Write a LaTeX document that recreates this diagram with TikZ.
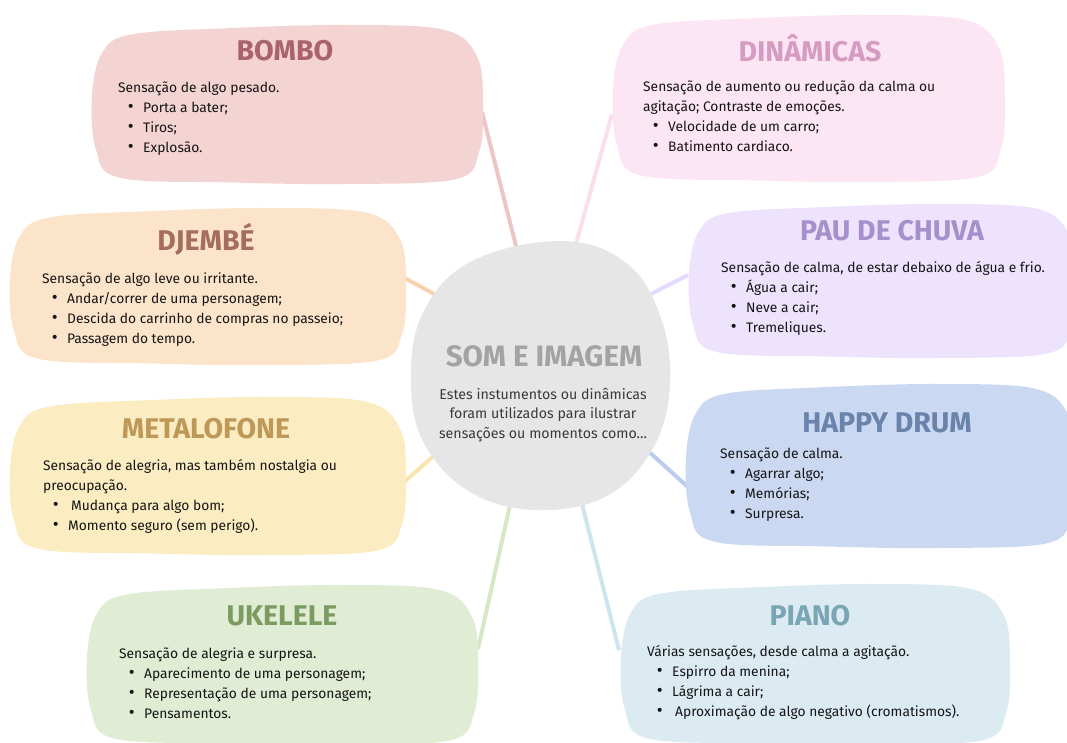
\documentclass[tikz,border=0pt]{standalone}
\usepackage{fontspec}
\setmainfont{Fira Sans}
\newfontfamily\titlefont{Fira Sans}
\usetikzlibrary{calc}
\definecolor{bomboFill}{HTML}{F4D3D3}\definecolor{bomboTitle}{HTML}{A8646A}\definecolor{bomboLine}{HTML}{EEC5C5}
\definecolor{dinFill}{HTML}{FDE6F3}\definecolor{dinTitle}{HTML}{D59BC0}\definecolor{dinLine}{HTML}{FBDEEE}
\definecolor{djeFill}{HTML}{FCE4CB}\definecolor{djeTitle}{HTML}{A56D5F}\definecolor{djeLine}{HTML}{F8D2AE}
\definecolor{pauFill}{HTML}{EDE3FD}\definecolor{pauTitle}{HTML}{A590CB}\definecolor{pauLine}{HTML}{E5DAFD}
\definecolor{metFill}{HTML}{FBECC2}\definecolor{metTitle}{HTML}{BD9856}\definecolor{metLine}{HTML}{F9E4AE}
\definecolor{hapFill}{HTML}{CAD8F1}\definecolor{hapTitle}{HTML}{6A83AA}\definecolor{hapLine}{HTML}{BCCBEF}
\definecolor{ukeFill}{HTML}{E0ECD4}\definecolor{ukeTitle}{HTML}{7C9B62}\definecolor{ukeLine}{HTML}{D6E6C7}
\definecolor{piaFill}{HTML}{DCEBF2}\definecolor{piaTitle}{HTML}{7AA5B5}\definecolor{piaLine}{HTML}{CDE5EE}
\definecolor{cenFill}{HTML}{E6E6E6}\definecolor{cenTitle}{HTML}{A3A3A3}\definecolor{cenText}{HTML}{3A3A3A}
\definecolor{bodyText}{HTML}{151515}
\newcommand\blobshape[5]{%
 \fill[#1] plot[smooth cycle, tension=0.6] coordinates {
  ({#2+0.10*(#4-#2)},{#3+0.06*(#5-#3)})
  ({#2+0.35*(#4-#2)},{#3+0.02*(#5-#3)})
  ({#2+0.65*(#4-#2)},{#3+0.00*(#5-#3)})
  ({#2+0.90*(#4-#2)},{#3+0.03*(#5-#3)})
  ({#2+0.985*(#4-#2)},{#3+0.20*(#5-#3)})
  ({#2+1.00*(#4-#2)},{#3+0.50*(#5-#3)})
  ({#2+0.99*(#4-#2)},{#3+0.80*(#5-#3)})
  ({#2+0.93*(#4-#2)},{#3+0.97*(#5-#3)})
  ({#2+0.65*(#4-#2)},{#3+1.00*(#5-#3)})
  ({#2+0.35*(#4-#2)},{#3+0.99*(#5-#3)})
  ({#2+0.07*(#4-#2)},{#3+0.96*(#5-#3)})
  ({#2+0.01*(#4-#2)},{#3+0.78*(#5-#3)})
  ({#2+0.00*(#4-#2)},{#3+0.45*(#5-#3)})
  ({#2+0.025*(#4-#2)},{#3+0.18*(#5-#3)})
 };}
\newcommand\tline[1]{\hbox{#1}}
\newcommand\bigbul{{\fontsize{18}{18}\selectfont •}}
\newcommand\bline[2][0pt]{\hbox{\hspace*{5pt}\makebox[15pt][c]{\bigbul}\hspace*{5pt}\hspace*{#1}#2}}
\newcommand\centline[1]{\hbox to 0pt{\hss#1\hss}}
\tikzset{
 body/.style={inner sep=0pt, anchor=base west, text=bodyText, font=\fontsize{13.8}{20}\selectfont},
 boxtitle/.style={inner sep=0pt, anchor=base, font=\fontsize{28.5}{30}\titlefont\bfseries},
 link/.style={line width=4pt},
}
\begin{document}
\begin{tikzpicture}[x=1pt,y=-1pt]
\useasboundingbox (0,0) rectangle (1067,742);
% connector end points
\coordinate (c-bombo) at (517,250); \coordinate (e-bombo) at (482,112);
\coordinate (c-din) at (576,244); \coordinate (e-din) at (612,114);
\coordinate (c-dje) at (445,300); \coordinate (e-dje) at (403,277);
\coordinate (c-pau) at (651,294); \coordinate (e-pau) at (688,275);
\coordinate (c-met) at (437,453); \coordinate (e-met) at (403,483);
\coordinate (c-hap) at (648,451); \coordinate (e-hap) at (688,487);
\coordinate (c-uke) at (510,505); \coordinate (e-uke) at (478,649);
\coordinate (c-pia) at (581,500); \coordinate (e-pia) at (619,650);
\draw[link, bomboLine] (c-bombo) -- (e-bombo);
\draw[link, dinLine] (c-din) -- (e-din);
\draw[link, djeLine] (c-dje) -- (e-dje);
\draw[link, pauLine] (c-pau) -- (e-pau);
\draw[link, metLine] (c-met) -- (e-met);
\draw[link, hapLine] (c-hap) -- (e-hap);
\draw[link, ukeLine] (c-uke) -- (e-uke);
\draw[link, piaLine] (c-pia) -- (e-pia);
% blobs
\blobshape{bomboFill}{92}{25}{483}{184}
\blobshape{dinFill}{613}{15}{1005}{182}
\blobshape{djeFill}{10}{208}{406}{365}
\blobshape{pauFill}{689}{204}{1075}{358}
\blobshape{metFill}{10}{397}{406}{555}
\blobshape{hapFill}{686}{384}{1075}{548}
\blobshape{ukeFill}{87}{585}{478}{745}
\blobshape{piaFill}{621}{584}{1010}{745}
\fill[cenFill] plot[smooth cycle, tension=0.65] coordinates {
 (560,241) (625,262) (660,315) (670,385) (652,450) (605,497) (535,510)
 (470,492) (425,445) (411,385) (422,315) (470,262)};
% titles
\node[boxtitle, text=bomboTitle] (t-bombo) at (285,60) {BOMBO};
\node[boxtitle, text=dinTitle] (t-din) at (810,61) {DINÂMICAS};
\node[boxtitle, text=djeTitle] (t-dje) at (206,250) {DJEMBÉ};
\node[boxtitle, text=pauTitle] (t-pau) at (892,240) {PAU DE CHUVA};
\node[boxtitle, text=metTitle] (t-met) at (206,438) {METALOFONE};
\node[boxtitle, text=hapTitle] (t-hap) at (887,432) {HAPPY DRUM};
\node[boxtitle, text=ukeTitle] (t-uke) at (282,625) {UKELELE};
\node[boxtitle, text=piaTitle] (t-pia) at (810,625) {PIANO};
\node[boxtitle, text=cenTitle, font=\fontsize{29.5}{33}\titlefont\bfseries] (t-cen) at (544,366) {SOM E IMAGEM};
% bodies
\node[body] (b-bombo) at (118,92) {\vtop{\tline{Sensação de algo pesado.}\bline{Porta a bater;}\bline{Tiros;}\bline{Explosão.}}};
\node[body] (b-din) at (643,91) {\vtop{\tline{Sensação de aumento ou redução da calma ou}\tline{agitação; Contraste de emoções.}\bline{Velocidade de um carro;}\bline{Batimento cardiaco.}}};
\node[body] (b-dje) at (42,283) {\vtop{\tline{Sensação de algo leve ou irritante.}\bline{Andar/correr de uma personagem;}\bline{Descida do carrinho de compras no passeio;}\bline{Passagem do tempo.}}};
\node[body] (b-pau) at (721,272) {\vtop{\tline{Sensação de calma, de estar debaixo de água e frio.}\bline{Água a cair;}\bline{Neve a cair;}\bline{Tremeliques.}}};
\node[body] (b-met) at (43,470) {\vtop{\tline{Sensação de alegria, mas também nostalgia ou}\tline{preocupação.}\bline[3pt]{Mudança para algo bom;}\bline{Momento seguro (sem perigo).}}};
\node[body] (b-hap) at (720,458) {\vtop{\tline{Sensação de calma.}\bline{Agarrar algo;}\bline{Memórias;}\bline{Surpresa.}}};
\node[body] (b-uke) at (119,658) {\vtop{\tline{Sensação de alegria e surpresa.}\bline{Aparecimento de uma personagem;}\bline{Representação de uma personagem;}\bline{Pensamentos.}}};
\node[body] (b-pia) at (647,656) {\vtop{\tline{Várias sensações, desde calma a agitação.}\bline{Espirro da menina;}\bline{Lágrima a cair;}\bline[3pt]{Aproximação de algo negativo (cromatismos).}}};
\node[body, anchor=base, text=cenText, font=\fontsize{14.2}{19.5}\selectfont] (b-cen) at (543,399) {\vtop{\centline{Estes instumentos ou dinâmicas}\centline{foram utilizados para ilustrar}\centline{sensações ou momentos como...}}};
\end{tikzpicture}
\end{document}
